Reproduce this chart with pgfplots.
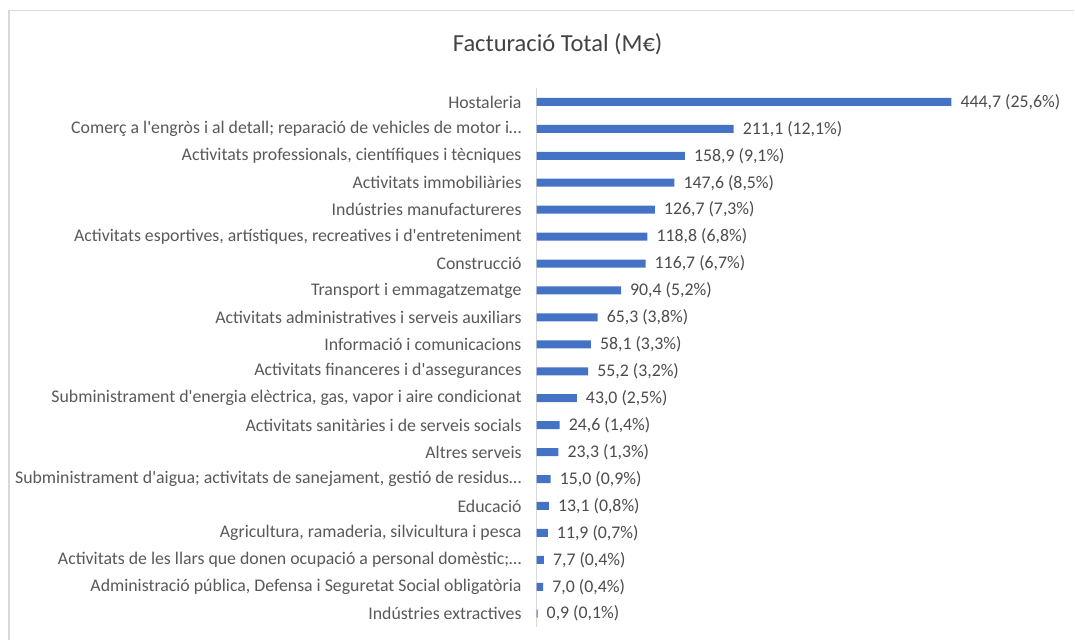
\documentclass[border=0pt]{standalone}
\usepackage{fontspec}
\setmainfont{Carlito}[Ligatures=TeXOff]
\usepackage{pgfplots}
\pgfplotsset{compat=1.18}
\definecolor{barblue}{HTML}{4472C4}
\definecolor{labgray}{HTML}{595959}
\definecolor{framegray}{HTML}{D9D9D9}

\begin{document}
\begin{tikzpicture}[x=1pt,y=1pt]
\fill[white] (0,0) rectangle (1075,640);
\draw[framegray, line width=1.2pt] (9,0) -- (9,629.5) -- (1075,629.5);
\node[font=\fontsize{24.5}{24.5}\selectfont, text=labgray!75!black] at (558,596) {Facturació Total (M€)};
\begin{axis}[
    at={(537pt,12.5pt)}, anchor=south west,
    scale only axis,
    width=523pt, height=539pt,
    xbar,
    xmin=0, xmax=560.5,
    ymin=-0.5, ymax=19.5,
    y dir=reverse,
    bar width=8pt,
    hide x axis,
    axis y line*=left,
    y axis line style={framegray, line width=1pt},
    major tick length=0pt,
    ytick={0,...,19},
    yticklabels={
        {Hostaleria},
        {Comerç a l'engròs i al detall; reparació de vehicles de motor i…},
        {Activitats professionals, científiques i tècniques},
        {Activitats immobiliàries},
        {Indústries manufactureres},
        {Activitats esportives,  artístiques, recreatives i d'entreteniment},
        {Construcció},
        {Transport i emmagatzematge},
        {Activitats administratives i serveis auxiliars},
        {Informació i comunicacions},
        {Activitats financeres i d'assegurances},
        {Subministrament d'energia elèctrica, gas, vapor i aire condicionat},
        {Activitats sanitàries i de serveis socials},
        {Altres serveis},
        {Subministrament d'aigua; activitats de sanejament, gestió de residus…},
        {Educació},
        {Agricultura, ramaderia, silvicultura i pesca},
        {Activitats de les llars que donen ocupació a personal domèstic;…},
        {Administració pública, Defensa i Seguretat Social obligatòria},
        {Indústries extractives}},
    yticklabel style={font=\fontsize{17.8}{17.8}\selectfont, text=labgray, inner sep=0pt, xshift=-15pt},
    point meta=explicit symbolic,
    nodes near coords,
    nodes near coords style={font=\fontsize{17.8}{17.8}\selectfont, text=labgray!85!black, anchor=west, inner sep=0pt, xshift=9pt},
    clip=false,
]
\addplot[fill=barblue, draw=none] coordinates {
    (444.7,0)  [444,7 (25,6\%)]
    (211.1,1)  [211,1 (12,1\%)]
    (158.9,2)  [158,9 (9,1\%)]
    (147.6,3)  [147,6 (8,5\%)]
    (126.7,4)  [126,7 (7,3\%)]
    (118.8,5)  [118,8 (6,8\%)]
    (116.7,6)  [116,7 (6,7\%)]
    (90.4,7)   [90,4 (5,2\%)]
    (65.3,8)   [65,3 (3,8\%)]
    (58.1,9)   [58,1 (3,3\%)]
    (55.2,10)  [55,2 (3,2\%)]
    (43.0,11)  [43,0 (2,5\%)]
    (24.6,12)  [24,6 (1,4\%)]
    (23.3,13)  [23,3 (1,3\%)]
    (15.0,14)  [15,0 (0,9\%)]
    (13.1,15)  [13,1 (0,8\%)]
    (11.9,16)  [11,9 (0,7\%)]
    (7.7,17)   [7,7 (0,4\%)]
    (7.0,18)   [7,0 (0,4\%)]
    (0.9,19)   [0,9 (0,1\%)]
};
\end{axis}
\end{tikzpicture}
\end{document}
